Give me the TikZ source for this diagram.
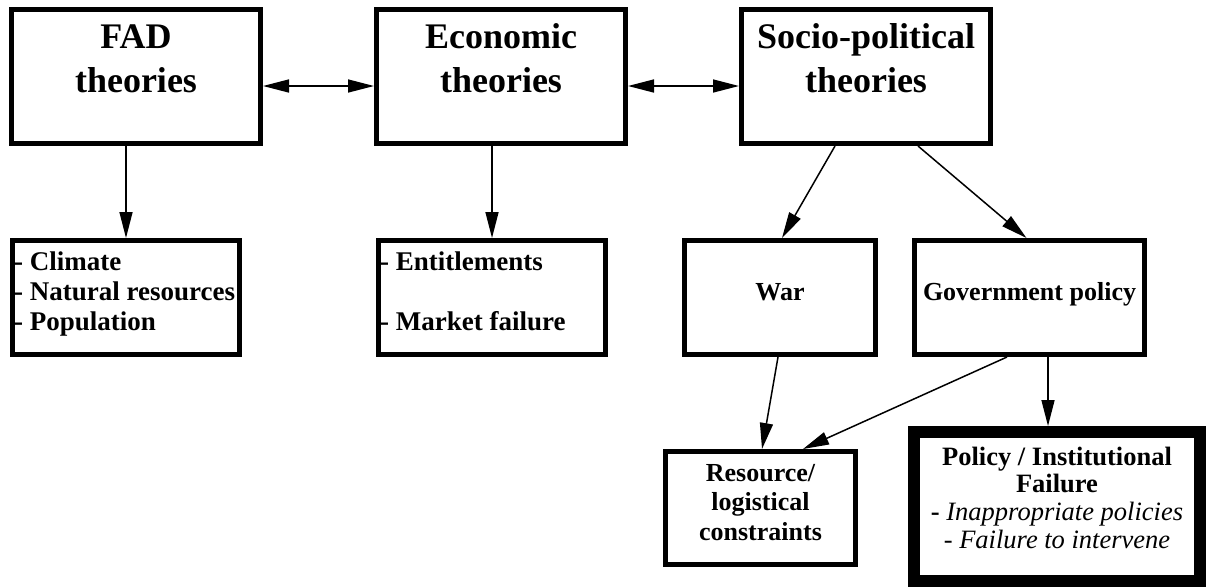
\documentclass[tikz,border=0pt]{standalone}
\usepackage{fontspec}
\setmainfont{Liberation Serif}
\usetikzlibrary{arrows.meta}
\begin{document}
\begin{tikzpicture}[x=1pt,y=-1pt,
  box/.style={draw, line width=5pt, inner sep=0pt},
  bigbox/.style={draw, line width=12pt, inner sep=0pt},
  conn/.style={line width=1.5pt, -{Triangle[length=26pt,width=13pt]}},
  dconn/.style={line width=1.5pt, {Triangle[length=26pt,width=13pt]}-{Triangle[length=26pt,width=13pt]}},
  ttl/.style={font=\fontsize{36}{44}\selectfont\bfseries, inner sep=0pt, anchor=base},
  lbl/.style={font=\fontsize{26}{30}\selectfont\bfseries, inner sep=0pt, anchor=base},
  lst/.style={font=\fontsize{27}{30}\selectfont\bfseries, inner sep=0pt, anchor=base west},
]
\fill[white] (0,0) rectangle (1206,587);
\useasboundingbox (0,0) rectangle (1206,587);

% top row
\node[box, minimum width=249pt, minimum height=134pt] (fad) at (136,76.5) {};
\node[box, minimum width=249pt, minimum height=134pt] (econ) at (501,76.5) {};
\node[box, minimum width=249pt, minimum height=134pt] (socio) at (866,76.5) {};
\node[ttl] (fadt) at (136,48) {\begin{tabular}[t]{@{}c@{}}FAD\\theories\end{tabular}};
\node[ttl] (econt) at (501,48) {\begin{tabular}[t]{@{}c@{}}Economic\\theories\end{tabular}};
\node[ttl] (sociot) at (866,48) {\begin{tabular}[t]{@{}c@{}}Socio-political\\theories\end{tabular}};

% second row
\node[box, minimum width=227pt, minimum height=114pt] (fadsub) at (126,297.5) {};
\node[box, minimum width=227pt, minimum height=114pt] (econsub) at (492,297.5) {};
\node[box, minimum width=191pt, minimum height=114pt] (war) at (780,297.5) {};
\node[box, minimum width=230pt, minimum height=114pt] (gov) at (1029.5,297.5) {};
\node[lst] (fadsubt) at (14,270) {\begin{tabular}[t]{@{}l@{}}- Climate\\- Natural resources\\- Population\end{tabular}};
\node[lst] (econsubt) at (380,270) {\begin{tabular}[t]{@{}l@{}}- Entitlements\\ \\- Market failure\end{tabular}};
\node[lbl] (wart) at (780,300) {War};
\node[lbl] (govt) at (1029.5,300) {Government policy};

% third row
\node[box, minimum width=190pt, minimum height=113pt] (res) at (760.5,508) {};
\node[bigbox, minimum width=286pt, minimum height=149pt] (pol) at (1057,506.5) {};
\node[lbl, font=\fontsize{26}{29.5}\selectfont\bfseries] (rest) at (760.5,481) {\begin{tabular}[t]{@{}c@{}}Resource/\\logistical\\constraints\end{tabular}};
\node[lbl, font=\fontsize{26.5}{27.7}\selectfont\bfseries] (polt) at (1057,465) {\begin{tabular}[t]{@{}c@{}}Policy / Institutional\\Failure\\- {\mdseries\itshape Inappropriate policies}\\{\mdseries - \itshape Failure to intervene}\end{tabular}};

% connectors
\draw[dconn] ([yshift=-9.5pt]fad.east) -- ([yshift=-9.5pt]econ.west);
\draw[dconn] ([yshift=-9.5pt]econ.east) -- ([yshift=-9.5pt]socio.west);
\draw[conn] (fadsub.north |- fad.south) -- (fadsub.north);
\draw[conn] (econsub.north |- econ.south) -- (econsub.north);
\draw[conn] ([xshift=-31pt]socio.south) -- ([xshift=2pt]war.north);
\draw[conn] ([xshift=52pt]socio.south) -- ([xshift=-3pt]gov.north);
\draw[conn] ([xshift=-2pt]war.south) -- ([xshift=1.5pt]res.north);
\draw[conn] ([xshift=-22.5pt]gov.south) -- ([xshift=42.5pt]res.north);
\draw[conn] ([xshift=18.5pt]gov.south) -- ([xshift=18.5pt]gov.south |- pol.north);
\end{tikzpicture}
\end{document}
